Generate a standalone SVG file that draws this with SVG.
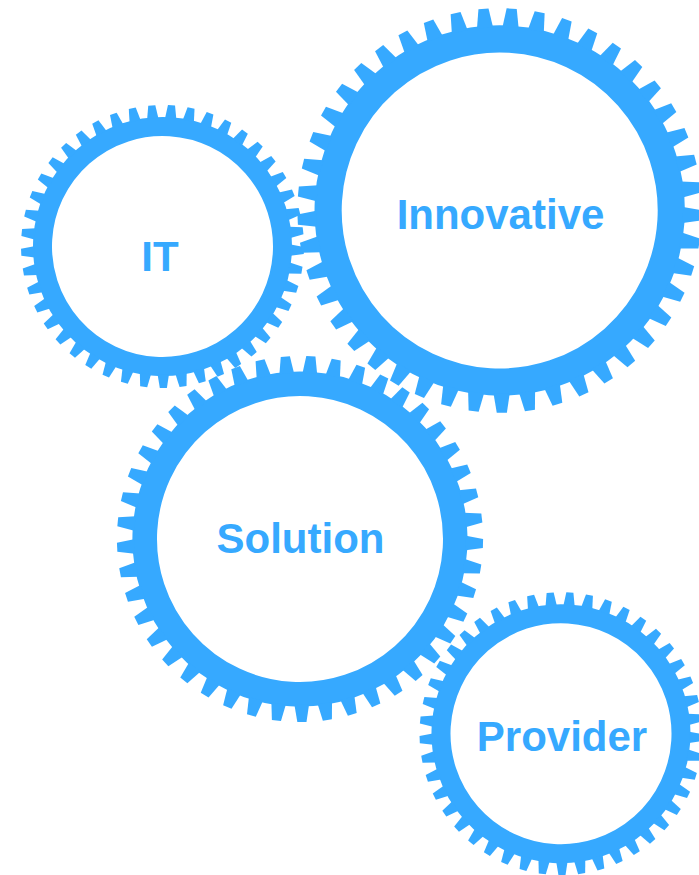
<svg xmlns="http://www.w3.org/2000/svg" width="699" height="875" viewBox="0 0 699 875">
<style>
.ring{fill:none;stroke:#36a9ff;stroke-width:17.2}
.tooth{fill:#36a9ff}
text{font-family:"Liberation Sans",Arial,sans-serif;font-weight:bold;font-size:42px;fill:#36a9ff;text-anchor:middle}
</style>
<defs>
<polygon id="t1" class="tooth" points="-5.1,-116 -3.2,-128 3.2,-128 5.1,-116"/>
<g id="t5"><use href="#t1"/><use href="#t1" transform="rotate(8)"/><use href="#t1" transform="rotate(16)"/><use href="#t1" transform="rotate(24)"/><use href="#t1" transform="rotate(32)"/></g>
<g id="t15"><use href="#t5"/><use href="#t5" transform="rotate(40)"/><use href="#t5" transform="rotate(80)"/></g>
<g id="gear">
<circle class="ring" r="108.6"/>
<use href="#t15"/><use href="#t15" transform="rotate(120)"/><use href="#t15" transform="rotate(240)"/>
</g>
</defs>
<g id="node-it">
<use href="#gear" transform="translate(162.5,246.5) scale(1.105) rotate(3.65)"/>
<text x="160" y="271">IT</text>
</g>
<g id="node-innovative">
<use href="#gear" transform="translate(499.7,210.5) scale(1.58) rotate(3.4)"/>
<text x="500.5" y="228.5">Innovative</text>
</g>
<g id="node-solution">
<use href="#gear" transform="translate(300,539) scale(1.43) rotate(3.4)"/>
<text x="300.5" y="552.7">Solution</text>
</g>
<g id="node-provider">
<use href="#gear" transform="translate(561,733.7) scale(1.105) rotate(3.6)"/>
<text x="562" y="750.7">Provider</text>
</g>
</svg>
